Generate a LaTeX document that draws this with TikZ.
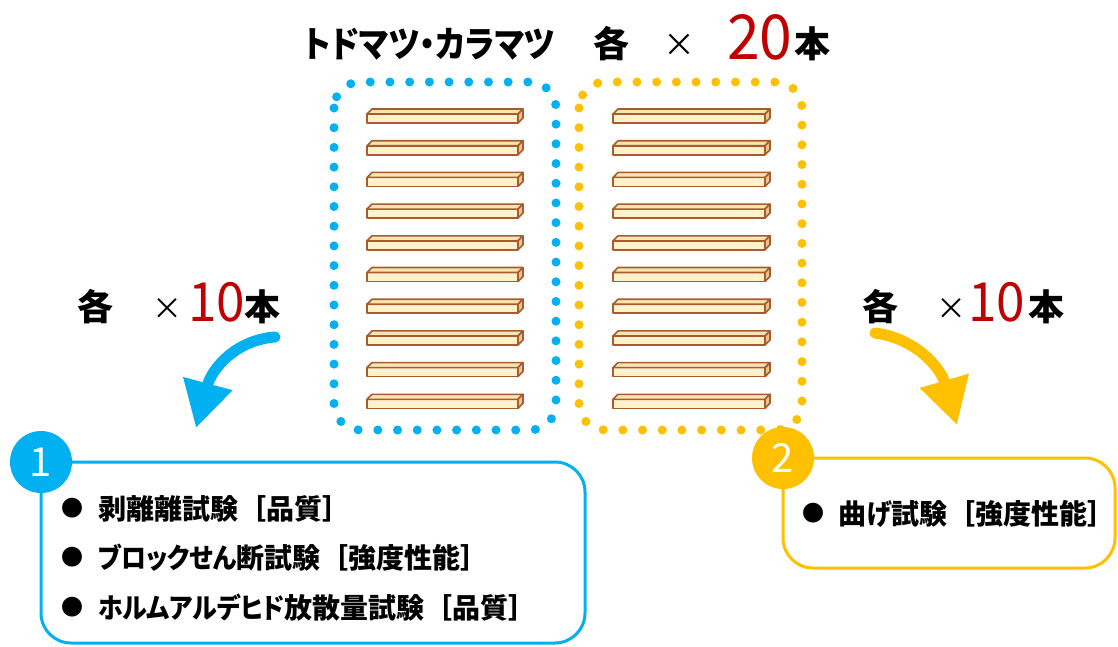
\documentclass[tikz,border=0pt]{standalone}
\usepackage{fontspec}
\setmainfont{Noto Sans CJK JP}
\newfontfamily\kana{Noto Sans CJK JP}[RawFeature=+palt, FakeStretch=0.89]
\newfontfamily\numfont{Noto Sans CJK JP}[FakeStretch=0.95]
\newfontfamily\plainfont{Noto Sans CJK JP}
\usetikzlibrary{arrows.meta}

\definecolor{cblue}{HTML}{00B0F0}
\definecolor{corange}{HTML}{FFC000}
\definecolor{cred}{HTML}{C00000}
\definecolor{woodline}{HTML}{A85C2C}
\definecolor{woodfront}{HTML}{FFF1CC}
\definecolor{woodtop}{HTML}{FBE3B4}
\definecolor{woodside}{HTML}{EAC48E}

\tikzset{
  txt/.style={inner sep=0pt, anchor=base},
  jpbig/.style={txt, font=\fontsize{36}{40}\selectfont\bfseries},
  timesbig/.style={txt, font=\plainfont\fontsize{32}{32}\selectfont},
  timessmall/.style={txt, font=\plainfont\fontsize{30}{30}\selectfont},
  rednum/.style={txt, anchor=base west, text=cred, font=\numfont\fontsize{#1}{#1}\selectfont},
  listtext/.style={inner sep=0pt, anchor=base west, font=\fontsize{28}{32}\selectfont\bfseries},
  bullet/.style={inner sep=0pt, anchor=center, font=\plainfont\fontsize{22}{22}\selectfont},
  dotframe/.style={line width=9pt, line cap=round, dash pattern=on 0pt off 19.7pt, rounded corners=26pt},
  groupbox/.style={line width=3pt, rounded corners=30pt},
  badge/.style={circle, inner sep=0pt, minimum size=62pt, text=white, font=\plainfont\fontsize{40}{40}\selectfont},
  bigarrow/.style={line width=11pt, line cap=round, -{Triangle[width=48pt,length=46pt]}},
  board/.pic={
    \filldraw[fill=woodfront, draw=woodline, line width=1.6pt, line join=round] (0,0) rectangle (#1,9);
    \filldraw[fill=woodtop, draw=woodline, line width=1.6pt, line join=round] (0,0) -- (5,-5) -- (#1+5,-5) -- (#1,0) -- cycle;
    \filldraw[fill=woodside, draw=woodline, line width=1.6pt, line join=round] (#1,0) -- (#1+5,-5) -- (#1+5,4) -- (#1,9) -- cycle;
  }
}

\begin{document}
\begin{tikzpicture}[x=1pt, y=-1pt]
\useasboundingbox (0,0) rectangle (1118,646);

% heading
\node[jpbig, anchor=base west] (ttl) at (304,57) {\kana\bfseries トドマツ・カラマツ};
\node[jpbig] (ttleach) at (611,57) {各};
\node[timesbig] (ttltimes) at (679,56) {×};
\node[rednum=62] (ttlnum) at (727,59) {20};
\node[jpbig] (ttlhon) at (812,57) {本};

% the two groups of boards
\draw[cblue, dotframe] (334,82) rectangle (556,430);
\draw[corange, dotframe] (579,82) rectangle (802,430);
\foreach \i in {0,...,9} {
  \pic at (367,114+31.7*\i) {board=151};
  \pic at (613,114+31.7*\i) {board=152};
}

% counts per group
\node[jpbig] (leach) at (95,320) {各};
\node[timessmall] (ltimes) at (167,319) {×};
\node[rednum=54] (lnum) at (188,321) {10};
\node[jpbig] (lhon) at (262,320) {本};

\node[jpbig] (reach) at (880,320) {各};
\node[timessmall] (rtimes) at (951,319) {×};
\node[rednum=54] (rnum) at (968,321) {10};
\node[jpbig] (rhon) at (1046,320) {本};

% arrows
\coordinate (a1s) at (275,337);
\coordinate (a1e) at (196,428);
\draw[cblue, bigarrow] (a1s) .. controls (236,340) and (212,368) .. (a1e);
\coordinate (a2s) at (875,333);
\coordinate (a2e) at (957,425);
\draw[corange, bigarrow] (a2s) .. controls (914,338) and (940,366) .. (a2e);

% test boxes
\draw[cblue, groupbox] (41,462) rectangle (585,643);
\node[badge, fill=cblue] (n1) at (41,462) {1};
\node[bullet] (b1) at (72,508) {●};
\node[listtext] (t1) at (98,519) {剥離離試験［品質］};
\node[bullet] (b2) at (72,557) {●};
\node[listtext] (t2) at (98,568) {{\kana\bfseries ブロックせん}断試験［強度性能］};
\node[bullet] (b3) at (72,607) {●};
\node[listtext] (t3) at (98,618) {{\kana\bfseries ホルムアルデヒド}放散量試験［品質］};

\draw[corange, groupbox] (783,458) rectangle (1115,568);
\node[badge, fill=corange] (n2) at (783,458) {2};
\node[bullet] (b4) at (813,513) {●};
\node[listtext] (t4) at (838,524) {曲{\kana\bfseries げ}試験［強度性能］};
\end{tikzpicture}
\end{document}
